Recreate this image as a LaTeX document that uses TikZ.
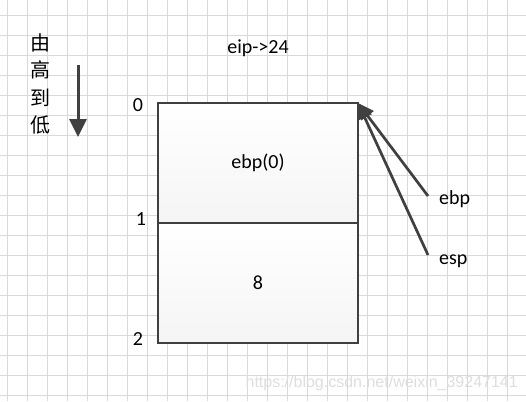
\documentclass[tikz,border=0pt]{standalone}
\usepackage{fontspec}
\setmainfont{Carlito}
\newfontfamily\cjk{Noto Sans CJK SC}
\newfontfamily\wmfont{Liberation Sans}
\usetikzlibrary{positioning,arrows.meta}
\definecolor{ink}{HTML}{404040}
\definecolor{gridgray}{HTML}{D9D9D9}
\begin{document}
\begin{tikzpicture}[x=1pt, y=-1pt, font=\fontsize{20}{24}\selectfont,
  cell/.style = {draw=ink, line width=1.3pt, minimum width=200pt, minimum height=120pt, outer sep=0pt, inner sep=0pt, top color=white, bottom color=gray!8},
  idx/.style = {inner sep=0pt},
  reg/.style = {anchor=west, inner xsep=11pt, inner ysep=0pt, text height=14pt, text depth=4pt},
  ptr/.style = {draw=ink, line width=2.7pt, -{Triangle[length=16pt, width=15pt]}},
  down/.style = {draw=ink, line width=3pt, -{Triangle[length=18pt, width=17pt]}}] 
\useasboundingbox (0,0) rectangle (526,401);
\fill[white] (0,0) rectangle (526,401);
% grid
\foreach \x in {7,27,...,507} \draw[gridgray] (\x,0) -- (\x,401);
\foreach \y in {15,35,...,395} \draw[gridgray] (0,\y) -- (526,\y);
% stack
\node[cell] (f0) at (258,163) {ebp(0)};
\node[cell] (f1) [below=0pt of f0] {8};
\node[idx] (i0) at (138,105) {0};
\node[idx] (i1) at (141,219) {1};
\node[idx] (i2) at (138,339) {2};
\node (eip) at (258,48) {eip->24};
% direction
\node[align=center, inner sep=0pt, font=\cjk\fontsize{20}{27.5}\selectfont] (dir) at (40,84) {由\\高\\到\\低};
\coordinate (hi) at (78,65);
\coordinate (lo) at (78,137);
\draw[down] (hi) -- (lo);
% registers
\node[reg] (ebp) at (428,199) {ebp};
\node[reg] (esp) at (428,259) {esp};
\draw[ptr] ([yshift=3pt]ebp.west) -- (f0.north east);
\draw[ptr] ([yshift=4pt]esp.west) -- (f0.north east);
\node[anchor=east, inner sep=0pt, text=black!13, font=\wmfont\fontsize{16}{16}\selectfont] (wm) at (518,383) {https://blog.csdn.net/weixin\_39247141};
\end{tikzpicture}
\end{document}
